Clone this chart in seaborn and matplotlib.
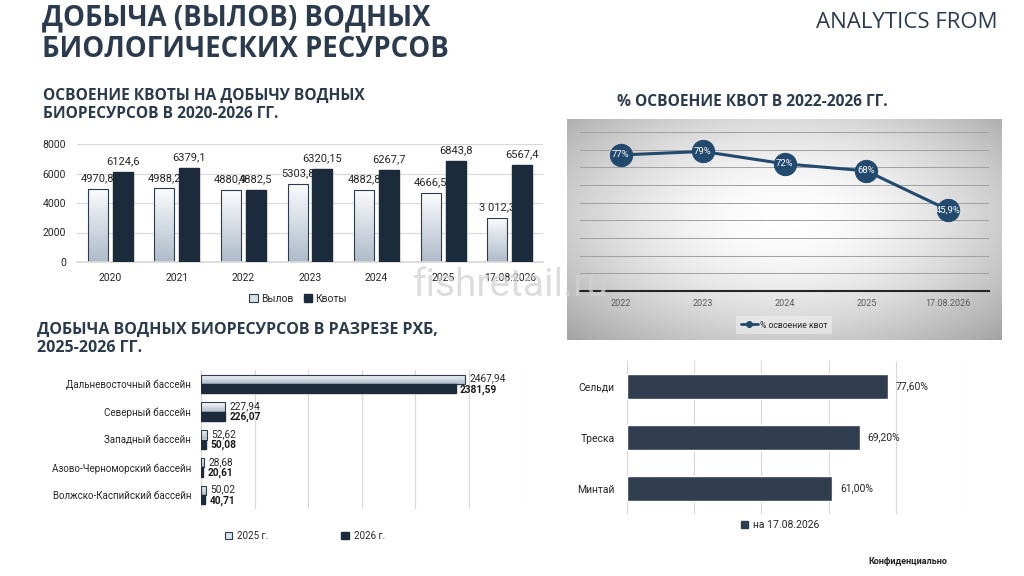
import numpy as np
import pandas as pd
import matplotlib
matplotlib.use("Agg")
import matplotlib.pyplot as plt
from matplotlib.colors import LinearSegmentedColormap
from matplotlib.lines import Line2D
from matplotlib.patches import Patch
import seaborn as sns

# ---------------- data ----------------
years = ['2020', '2021', '2022', '2023', '2024', '2025', '17.08.2026']
catch_vals = [4970.8, 4988.2, 4880.9, 5303.8, 4882.8, 4666.5, 3012.3]
quota_vals = [6124.6, 6379.1, 4882.5, 6320.15, 6267.7, 6843.8, 6567.4]
catch_labels = ['4970,8', '4988,2', '4880,9', '5303,8', '4882,8', '4666,5', '3 012,3']
quota_labels = ['6124,6', '6379,1', '4882,5', '6320,15', '6267,7', '6843,8', '6567,4']
series_names = ['Вылов', 'Квоты']

pct_years = ['2022', '2023', '2024', '2025', '17.08.2026']
pct_vals = [77, 79, 72, 68, 45.9]
pct_labels = ['77%', '79%', '72%', '68%', '45,9%']
pct_series = '% освоение квот'

basins = ['Дальневосточный бассейн', 'Северный бассейн', 'Западный бассейн',
          'Азово-Черноморский бассейн', 'Волжско-Каспийский бассейн']
basin_2025 = [2467.94, 227.94, 52.62, 28.68, 50.02]
basin_2026 = [2381.59, 226.07, 50.08, 20.61, 40.71]
basin_lab_2025 = ['2467,94', '227,94', '52,62', '28,68', '50,02']
basin_lab_2026 = ['2381,59', '226,07', '50,08', '20,61', '40,71']
basin_years = ['2025 г.', '2026 г.']

species = ['Сельди', 'Треска', 'Минтай']
species_vals = [77.6, 69.2, 61.0]
species_labels = ['77,60%', '69,20%', '61,00%']
species_series = 'на 17.08.2026'

# ---------------- style ----------------
sns.set_theme(style='white')
plt.rcParams['font.family'] = ['Roboto', 'DejaVu Sans']
HEAD = ['Open Sans', 'DejaVu Sans']

NAVY = '#1c2b3b'
HEADC = '#2b3b4d'
GRID = '#d9d9d9'

W, H = 1024, 576
fig = plt.figure(figsize=(W / 100, H / 100), dpi=100)
fig.patch.set_facecolor('white')


def rect(x0, y0, x1, y1):
    return [x0 / W, 1 - y1 / H, (x1 - x0) / W, (y1 - y0) / H]


def fy(y):
    return 1 - y / H


light_cmap = LinearSegmentedColormap.from_list('lt', ['#fbfcfd', '#aebbc9'])
grad = np.linspace(1, 0, 64).reshape(-1, 1)


def gradient_fill(ax, patch, inverted=False, z=2):
    x, y = patch.get_x(), patch.get_y()
    w, h = patch.get_width(), patch.get_height()
    ext = [x, x + w, y + h, y] if inverted else [x, x + w, y, y + h]
    im = ax.imshow(grad, cmap=light_cmap, extent=ext, origin='lower',
                   aspect='auto', zorder=z, vmin=0, vmax=1)
    im.set_clip_path(patch)
    patch.set_facecolor('none')
    patch.set_edgecolor('#2e3b4a')
    patch.set_linewidth(0.8)
    patch.set_zorder(z + 0.1)


# ---------------- headings ----------------
fig.text(42 / W, fy(34), 'ДОБЫЧА (ВЫЛОВ) ВОДНЫХ\nБИОЛОГИЧЕСКИХ РЕСУРСОВ',
         family=HEAD, fontsize=19.8, fontweight='bold', color=HEADC,
         va='center', ha='left', linespacing=1.1)
fig.text(998 / W, fy(22), 'ANALYTICS FROM', family=HEAD, fontsize=16,
         color=HEADC, va='center', ha='right')
fig.text(43 / W, fy(105), 'ОСВОЕНИЕ КВОТЫ НА ДОБЫЧУ ВОДНЫХ\nБИОРЕСУРСОВ В 2020-2026 ГГ.',
         family=HEAD, fontsize=11.2, fontweight='bold', color=HEADC,
         va='center', ha='left', linespacing=1.15)
fig.text(752 / W, fy(102), '% ОСВОЕНИЕ КВОТ В 2022-2026 ГГ.',
         family=HEAD, fontsize=11.2, fontweight='bold', color=HEADC,
         va='center', ha='center')
fig.text(37 / W, fy(339), 'ДОБЫЧА ВОДНЫХ БИОРЕСУРСОВ В РАЗРЕЗЕ РХБ,\n2025-2026 ГГ.',
         family=HEAD, fontsize=11.5, fontweight='bold', color=HEADC,
         va='center', ha='left', linespacing=1.1)
fig.text(511 / W, fy(286), 'fishretail.ru', fontsize=28, color='#d2d2d2',
         alpha=0.75, va='center', ha='center', zorder=10)
fig.text(908 / W, fy(562), 'Конфиденциально', fontsize=6.5, fontweight='bold',
         color='#222222', va='center', ha='center')

# ---------------- chart 1: quotas ----------------
ax1 = fig.add_axes(rect(77, 144, 543, 262))
df1 = pd.DataFrame({
    'year': years * 2,
    'value': catch_vals + quota_vals,
    'series': [series_names[0]] * len(years) + [series_names[1]] * len(years),
})
sns.barplot(data=df1, x='year', y='value', hue='series', hue_order=series_names,
            palette=['#d8dfe7', NAVY], width=0.75, gap=0.2, ax=ax1,
            legend=False, saturation=1)
for p in ax1.containers[0]:
    gradient_fill(ax1, p, z=2)
for p in ax1.containers[1]:
    p.set_zorder(3)
    p.set_edgecolor(NAVY)
for p, lab in zip(ax1.containers[0], catch_labels):
    ax1.annotate(lab, (p.get_x() + p.get_width() / 2, p.get_height()),
                 xytext=(0, 4), textcoords='offset points', ha='center',
                 va='bottom', fontsize=8, color='#262626', zorder=2.5)
for p, lab in zip(ax1.containers[1], quota_labels):
    ax1.annotate(lab, (p.get_x() + p.get_width() / 2, p.get_height()),
                 xytext=(0, 4), textcoords='offset points', ha='center',
                 va='bottom', fontsize=8, color='#262626', zorder=4)
ax1.set_xlim(-0.5, len(years) - 0.5)
ax1.set_ylim(0, 8000)
ax1.set_yticks([0, 2000, 4000, 6000, 8000])
ax1.yaxis.grid(True, color=GRID, lw=0.8)
ax1.set_axisbelow(True)
for s in ['top', 'right', 'left']:
    ax1.spines[s].set_visible(False)
ax1.spines['bottom'].set_color(GRID)
ax1.set_xlabel('')
ax1.set_ylabel('')
ax1.tick_params(axis='both', length=0, labelsize=7.5, colors='#262626')
ax1.tick_params(axis='x', pad=8)
ax1.tick_params(axis='y', pad=8)
ax1.set_facecolor('none')
h1 = [Patch(facecolor='#d8dfe7', edgecolor='#2e3b4a', lw=0.8),
      Patch(facecolor=NAVY, edgecolor=NAVY)]
fig.legend(h1, series_names, loc='center', bbox_to_anchor=(298 / W, fy(299)),
           ncol=2, frameon=False, fontsize=7.5, handlelength=0.8,
           handleheight=0.8, handletextpad=0.3, columnspacing=1.0)

# ---------------- chart 2: % line ----------------
axbg = fig.add_axes(rect(567, 119, 1002, 340))
yy, xx = np.mgrid[0:1:200j, 0:1:400j]
r = np.sqrt(((xx - 0.5) / 0.6) ** 2 + ((yy - 0.45) / 0.65) ** 2)
shade = 1 - 0.27 * np.clip(r, 0, 1.25) ** 1.7
axbg.imshow(np.dstack([shade] * 3), aspect='auto', extent=[0, 1, 0, 1])
axbg.set_axis_off()

ax2 = fig.add_axes(rect(580, 132, 989, 291))
ax2.set_facecolor('none')
LINEC = '#22496e'
sns.lineplot(x=list(range(len(pct_years))), y=pct_vals, ax=ax2, color=LINEC,
             lw=2.2, marker='o', markersize=16, markeredgecolor=LINEC,
             markerfacecolor=LINEC, zorder=3)
for i, (v, lab) in enumerate(zip(pct_vals, pct_labels)):
    ax2.text(i, v, lab, ha='center', va='center', fontsize=6.8, color='white',
             zorder=4)
ax2.set_xlim(-0.5, len(pct_years) - 0.5)
ax2.set_ylim(0, 90)
ax2.set_yticks(np.arange(0, 91, 10))
ax2.set_yticklabels([])
ax2.yaxis.grid(True, color='#a0a0a0', lw=0.7)
ax2.set_axisbelow(True)
ax2.set_xticks(range(len(pct_years)))
ax2.set_xticklabels(pct_years)
for s in ['top', 'right', 'left']:
    ax2.spines[s].set_visible(False)
ax2.spines['bottom'].set_color('#262626')
ax2.spines['bottom'].set_linewidth(1.5)
ax2.tick_params(axis='both', length=0, labelsize=6.5, colors='#595959')
ax2.tick_params(axis='x', pad=6)
h2 = [Line2D([0], [0], color=LINEC, lw=2, marker='o', markersize=4)]
lg2 = fig.legend(h2, [pct_series], loc='center', bbox_to_anchor=(784 / W, fy(325)),
                 frameon=True, fontsize=6.2, handlelength=2.0, handletextpad=0.2,
                 borderpad=0.5)
lg2.get_frame().set_facecolor('#f2f2f2')
lg2.get_frame().set_alpha(0.55)
lg2.get_frame().set_edgecolor('none')
lg2.get_frame().set_boxstyle('square', pad=0.0)

# ---------------- chart 3: basins ----------------
ax3 = fig.add_axes(rect(201, 370, 522, 509))
df3 = pd.DataFrame({
    'basin': basins * 2,
    'value': basin_2025 + basin_2026,
    'year': [basin_years[0]] * len(basins) + [basin_years[1]] * len(basins),
})
sns.barplot(data=df3, y='basin', x='value', hue='year', hue_order=basin_years,
            palette=['#dde3ea', NAVY], orient='h', width=0.67, gap=0.0, ax=ax3,
            legend=False, saturation=1)
for p in ax3.containers[0]:
    gradient_fill(ax3, p, inverted=True, z=2)
for p in ax3.containers[1]:
    p.set_zorder(3)
    p.set_edgecolor(NAVY)
for p, lab in zip(ax3.containers[0], basin_lab_2025):
    ax3.annotate(lab, (p.get_width(), p.get_y() + p.get_height() / 2 - 0.03),
                 xytext=(3, 0), textcoords='offset points', ha='left',
                 va='center', fontsize=7.3, color='#262626', zorder=5)
for p, lab in zip(ax3.containers[1], basin_lab_2026):
    ax3.annotate(lab, (p.get_width(), p.get_y() + p.get_height() / 2 + 0.03),
                 xytext=(3, 0), textcoords='offset points', ha='left',
                 va='center', fontsize=7.3, fontweight='bold', color='#1a1a1a',
                 zorder=5)
ax3.set_xlim(0, 3000)
ax3.set_ylim(len(basins) - 0.5, -0.5)
ax3.set_xticks(np.arange(0, 3001, 500))
ax3.set_xticklabels([])
ax3.xaxis.grid(True, color=GRID, lw=0.8)
ax3.set_axisbelow(True)
for s in ax3.spines.values():
    s.set_visible(False)
ax3.set_xlabel('')
ax3.set_ylabel('')
ax3.tick_params(axis='both', length=0, labelsize=7, colors='#262626')
ax3.tick_params(axis='y', pad=7)
ax3.set_facecolor('none')
h3 = [Patch(facecolor='#dde3ea', edgecolor='#2e3b4a', lw=0.8),
      Patch(facecolor=NAVY, edgecolor=NAVY)]
fig.legend(h3, basin_years, loc='center', bbox_to_anchor=(305 / W, fy(536)),
           ncol=2, frameon=False, fontsize=7, handlelength=0.8,
           handleheight=0.8, handletextpad=0.5, columnspacing=7.5)

# ---------------- chart 4: species ----------------
ax4 = fig.add_axes(rect(627, 361, 963, 514))
BARC = '#2f3d4f'
sns.barplot(x=species_vals, y=species, orient='h', color=BARC, width=0.5,
            ax=ax4, saturation=1)
for p, lab in zip(ax4.patches, species_labels):
    ax4.annotate(lab, (p.get_width(), p.get_y() + p.get_height() / 2),
                 xytext=(6, 0), textcoords='offset points', ha='left',
                 va='center', fontsize=7.5, color='#262626')
ax4.set_xlim(0, 100)
ax4.set_xticks(np.arange(0, 101, 20))
ax4.set_xticklabels([])
ax4.xaxis.grid(True, color=GRID, lw=0.8)
ax4.set_axisbelow(True)
for s in ax4.spines.values():
    s.set_visible(False)
ax4.tick_params(axis='both', length=0, labelsize=7.5, colors='#262626')
ax4.tick_params(axis='y', pad=9)
ax4.set_facecolor('none')
h4 = [Patch(facecolor=BARC, edgecolor=BARC)]
fig.legend(h4, [species_series], loc='center', bbox_to_anchor=(780 / W, fy(525)),
           frameon=False, fontsize=7.5, handlelength=0.7, handleheight=0.7,
           handletextpad=0.4)

fig.savefig('out.png', dpi=100)
